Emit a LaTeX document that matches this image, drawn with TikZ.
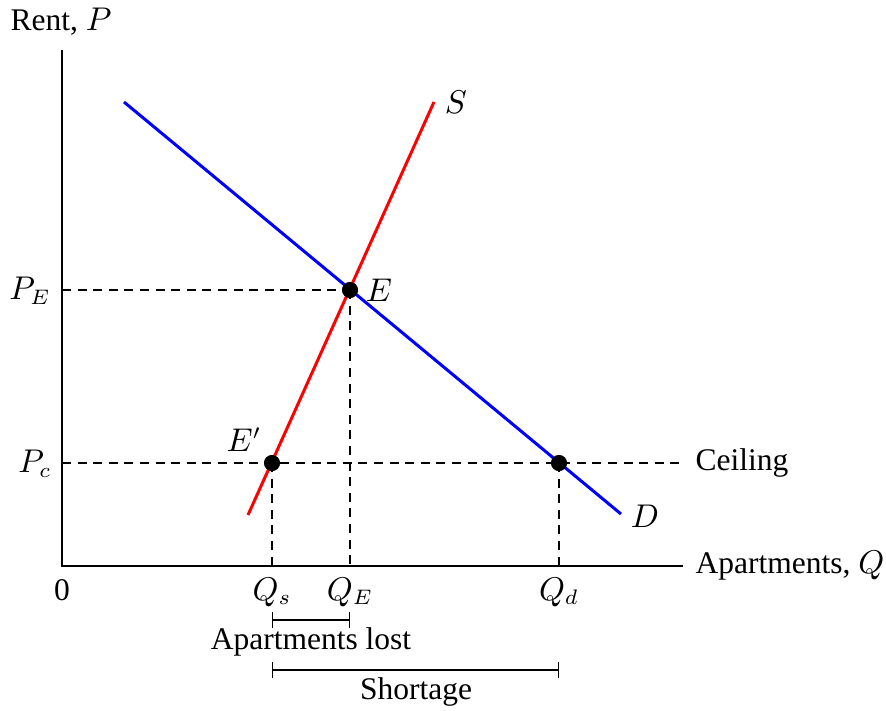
\documentclass[tikz,border=0pt]{standalone}
\usepackage{fontspec}
\setmainfont{Liberation Serif}
\begin{document}
\begin{tikzpicture}[x=0.3333pt,y=-0.3333pt,
  every node/.style={font=\fontsize{10.5}{12}\selectfont},
  axis/.style={line width=0.5pt},
  guide/.style={dash pattern=on 3pt off 2.2pt,line width=0.7pt},
  curve/.style={line width=1pt},
  dot/.style={circle,fill=black,inner sep=0pt,minimum size=5.3pt},
  bracket/.style={line width=0.4pt,|-|},
  lbl/.style={inner sep=1pt}]
\useasboundingbox (0,0) rectangle (886,711);
% axes
\coordinate (O) at (62,566);
\coordinate (Ytop) at (62,50);
\coordinate (Xend) at (683,566);
\draw[axis] (Ytop) -- (O) -- (Xend);
\node[anchor=center] (ylab) at (61,22) {Rent, $P$};
\node[anchor=west,inner sep=0pt] (xlab) at (695,566) {Apartments, $Q$};
\node (zero) at (62,590) {0};
% points
\node[dot] (E) at (350,290) {};
\node[dot] (Ep) at (272,463) {};
\node[dot] (Qdp) at (559,463) {};
% axis references
\coordinate (PEax) at (62,290);
\coordinate (Pcax) at (62,463);
\coordinate (Pcend) at (683,463);
\coordinate (QEax) at (350,566);
\coordinate (Qsax) at (272,566);
\coordinate (Qdax) at (559,566);
% dashed guides
\draw[guide] (PEax) -- (E.center);
\draw[guide] (Pcax) -- (Pcend);
\draw[guide] (E.center) -- (QEax);
\draw[guide] (Ep.center) -- (Qsax);
\draw[guide] (Qdp.center) -- (Qdax);
% curves
\coordinate (D1) at (124,102);
\coordinate (D2) at (621,514);
\coordinate (S1) at (248,515);
\coordinate (S2) at (434,102);
\draw[curve,blue] (D1) -- (D2);
\draw[curve,red] (S1) -- (S2);
% redraw dots on top
\node[dot] at (E) {};
\node[dot] at (Ep) {};
\node[dot] at (Qdp) {};
% labels
\node (Slab) at (456,102) {$S$};
\node (Dlab) at (645,516) {$D$};
\node (Elab) at (379,290) {$E$};
\node (Eplab) at (244,440) {$E'$};
\node (PE) at (30,291) {$P_E$};
\node (Pc) at (35,464) {$P_c$};
\node[anchor=west,inner sep=0pt] (ceil) at (695,463) {Ceiling};
\node (Qs) at (272,592) {$Q_s$};
\node (QE) at (350,592) {$Q_E$};
\node (Qd) at (559,592) {$Q_d$};
% brackets
\coordinate (b1a) at (272,620);
\coordinate (b1b) at (350,620);
\coordinate (b2a) at (272,670);
\coordinate (b2b) at (559,670);
\draw[bracket] (b1a) -- (b1b);
\draw[bracket] (b2a) -- (b2b);
\node (lost) at (311,642) {Apartments lost};
\node (short) at (416,692) {Shortage};
\end{tikzpicture}
\end{document}
